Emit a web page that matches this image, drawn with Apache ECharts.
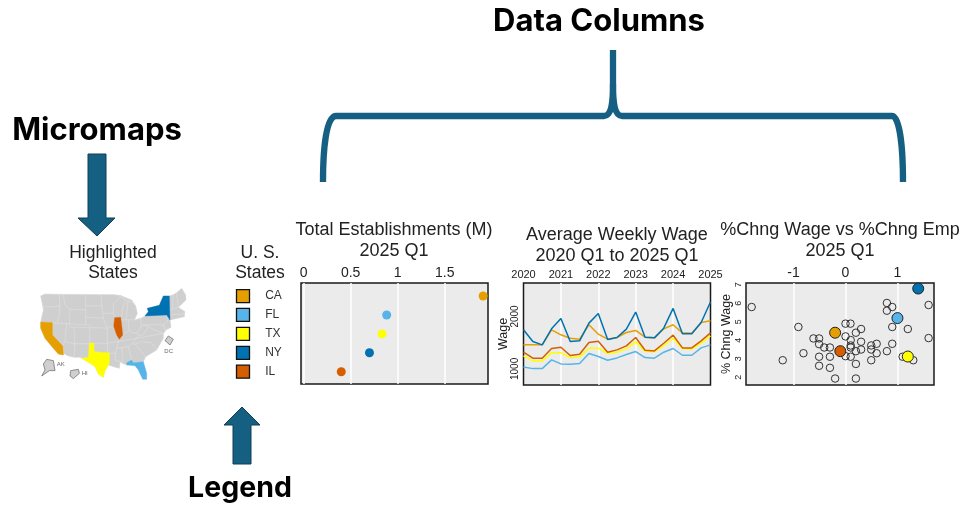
<!DOCTYPE html>
<html><head><meta charset="utf-8">
<style>html,body{margin:0;padding:0;background:#fff}#c{width:965px;height:510px}</style>
<script src="https://cdn.jsdelivr.net/npm/echarts@6/dist/echarts.min.js"></script>
</head><body><div id="c"></div>
<script>
// ---- highlighted states
const stateCodes = ['CA','FL','TX','NY','IL'];
const stateColors = ['#E69F00','#56B4E9','#FFFF00','#0072B2','#D55E00'];
const legendRows = [5,4,3,2,1];
// ---- column 1
const establishments = [1.908,0.883,0.834,0.70,0.40];
const estTicks = [0,0.5,1,1.5];
// ---- column 2
const quarters = [2020,2020.25,2020.5,2020.75,2021,2021.25,2021.5,2021.75,2022,2022.25,2022.5,2022.75,2023,2023.25,2023.5,2023.75,2024,2024.25,2024.5,2024.75,2025];
const wageCA = [1459,1459,1459,1745,1650,1586,1567,1841,1662,1567,1599,1694,1733,1605,1592,1764,1841,1688,1682,1885,1917];
const wageFL = [1038,1006,1006,1172,1096,1089,1102,1293,1236,1166,1210,1274,1331,1217,1204,1318,1389,1261,1261,1401,1459];
const wageTX = [1248,1153,1153,1306,1306,1217,1229,1395,1395,1299,1318,1382,1516,1338,1331,1446,1580,1389,1382,1490,1631];
const wageNY = [1745,1522,1459,1764,1962,1522,1535,1873,2057,1561,1599,1758,2083,1605,1592,1777,2153,1669,1669,1885,2274];
const wageIL = [1318,1204,1204,1389,1414,1255,1280,1503,1529,1318,1363,1440,1599,1357,1344,1490,1643,1401,1401,1535,1688];
const yearTicks = [2020,2021,2022,2023,2024,2025];
const wageTicks = [1000,2000];
// ---- column 3
const otherChngEmp = [-1.807,-0.907,-1.209,-0.81,-0.617,-0.508,-0.508,-0.41,-0.30,-0.508,-0.30,-0.508,-0.30,-0.2,0.2,0.2,0,0.096,0.2,0.30,0,0.1,0.1,0.1,0,0.1,0.2,0.3,0.3,0.495,0.495,0.6,0.6,0.495,0.797,0.9,0.9,0.797,0.9,0.797,1.2,1.1,1.305,1.6,1.6];
const otherChngWage = [5.80,4.72,2.92,3.30,4.10,4.10,3.79,3.61,3.61,3.11,3.11,2.62,2.51,1.93,1.93,2.72,4.9,4.9,4.41,4.61,4.21,4.01,3.72,3.61,3.14,3.11,3.41,3.5,3.92,3.72,3.5,3.81,3.3,2.92,3.41,3.81,4.72,6.02,5.8,5.6,4.61,3.11,2.92,5.91,4.12];
const hiChngEmp = [-0.2,1.0,1.2,1.4,-0.1];
const hiChngWage = [4.41,5.2,3.12,6.8,3.41];
const empTicks = [-1,0,1];
const chngWageTicks = [2,3,4,5,6,7];
// ---- schematic outlines for the micromap
const US=[122,228,135,222,345,224,362,226,395,240,407,258,412,280,403,300,423,295,435,288,445,275,442,265,478,256,490,228,508,228,520,224,530,218,545,205,557,225,558,240,535,262,555,275,553,290,510,300,513,322,498,330,495,335,490,340,490,355,470,390,437,410,430,425,400,428,380,428,380,435,367,430,360,425,358,445,340,440,325,435,328,430,315,452,310,472,295,462,285,440,270,430,245,415,240,412,222,412,205,408,190,400,190,405,175,402,160,385,135,355,122,325,122,306,130,270,128,258];
const GREATLAKE=[368,262,385,243,378,300,364,300,364,292];
const WA=[122,228,135,222,178,224,178,258,140,262,128,258];
const OR=[128,258,140,262,178,258,180,272,172,310,122,306,130,270];
const CAo=[122,306,157,308,157,345,188,378,190,405,175,402,160,385,135,355,122,325];
const NV=[157,308,172,310,200,310,195,365,188,378,157,345];
const ID=[178,224,190,224,195,255,210,268,210,312,200,310,172,310,180,272];
const MT=[190,224,257,224,257,270,210,268,195,255];
const ND=[257,224,303,224,306,258,257,258];
const SD=[257,258,306,258,310,295,257,292];
const WY=[210,268,257,270,257,315,210,312];
const NE=[257,292,310,295,322,325,270,323,270,315,257,315];
const UT=[200,310,210,312,210,322,222,322,225,372,195,365];
const CO=[222,322,270,323,270,370,225,372];
const AZ=[195,365,225,372,222,412,205,408,190,400,188,378];
const NM=[225,372,268,372,266,412,245,415,240,412,222,412];
const TXo=[268,370,282,370,282,395,310,398,328,398,328,430,315,452,310,472,295,462,285,440,270,430,245,415,266,412];
const KS=[270,323,322,325,322,370,270,370];
const OK=[270,370,322,370,324,400,310,398,282,395,282,370];
const MN=[303,224,345,224,362,230,340,250,340,280,308,280,306,258];
const IA=[308,280,340,280,345,293,341,318,330,322,322,325,310,295];
const MO=[322,325,330,322,341,318,350,345,358,358,355,365,322,370];
const AR=[322,370,355,365,350,385,348,400,324,400];
const LA=[324,400,348,400,345,420,360,425,358,445,340,440,325,435,328,430,328,398];
const WI=[340,250,362,230,375,240,368,262,364,292,345,293,340,280];
const UP=[375,240,362,230,395,240,407,258,400,250,385,243];
const MI=[385,243,400,250,407,258,412,280,403,300,378,300];
const ILo=[344,293,362,292,366,325,368,345,358,358,350,345,341,318];
const IN=[364,300,385,300,388,330,368,345,366,325];
const OH=[385,300,403,300,423,295,424,320,412,340,395,338,388,330];
const KY=[358,358,368,345,388,330,395,338,412,340,418,345,410,355,355,365];
const TN=[355,365,410,355,395,372,385,380,350,385];
const MS=[350,385,367,383,367,430,360,425,345,420,348,400];
const AL=[367,383,385,380,395,420,380,428,380,435,367,430];
const GA=[385,380,395,372,405,372,437,410,430,425,400,428,395,420];
const FLo=[380,428,395,420,400,428,430,425,440,460,440,478,428,478,415,450,405,437,380,435];
const SC=[405,372,425,365,455,368,470,390,437,410];
const NC=[395,372,410,355,490,340,490,355,470,390,455,368,425,365,405,372];
const VA=[410,355,418,345,428,345,445,320,465,330,490,340];
const WV=[412,340,424,320,430,315,445,320,428,345,418,345];
const PA=[423,295,435,288,500,285,503,305,490,315,430,315,424,320];
const MD=[430,315,490,315,495,335,490,340,465,330,445,320];
const NJ=[500,285,510,300,513,322,498,330,490,315,503,305];
const NYo=[442,265,478,256,490,228,508,228,510,300,500,285,435,288,445,275];
const VT=[508,228,520,224,518,268,510,270];
const NH=[520,224,530,218,535,262,518,268];
const ME=[530,218,545,205,557,225,558,240,535,262];
const MA=[510,270,518,268,535,262,555,275,553,282,510,285];
const CT=[510,285,553,282,553,290,510,300];
const AK=[140,418,160,422,165,452,148,452,125,468,135,450,130,432];
const HI=[212,452,235,448,238,460,220,476,210,468];
const DC=[505,348,520,358,510,375,495,362];
// drawn in this order: nation, plain states, insets, highlighted states last
const outlines={WA,OR,NV,ID,MT,ND,SD,WY,NE,UT,CO,AZ,NM,KS,OK,MN,IA,MO,AR,LA,WI,UP,MI,IN,OH,KY,TN,MS,AL,GA,SC,NC,VA,WV,PA,MD,NJ,VT,NH,ME,MA,CT,AK,HI,DC,CA:CAo,FL:FLo,TX:TXo,NY:NYo,IL:ILo};
const insetStates=['AK','HI','DC'];

function ring(f){const r=[];for(let i=0;i<f.length;i+=2)r.push([f[i],-f[i+1]]);r.push(r[0]);return r;}
const feature=(n,rings)=>({type:'Feature',properties:{name:n},geometry:{type:'Polygon',coordinates:rings}});
const usGeo={type:'FeatureCollection',features:[feature('US',[ring(US),ring(GREATLAKE)]),...Object.keys(outlines).map(n=>feature(n,[ring(outlines[n])]))]};
echarts.registerMap('micro',usGeo);

const FONT='"Liberation Sans",Arial,sans-serif', BOLD='Inter,"Open Sans",sans-serif';
const INK='#222', BLUE='#156082', DARK='#0f3f55';
const gridBase={show:true,backgroundColor:'#ebebeb',borderColor:'#1a1a1a',borderWidth:1.5};
const white=(extra)=>Object.assign({show:true,lineStyle:{color:'#fff',width:1.5}},extra||{});
const plain=v=>String(v);

function xAxis(i,min,max,ticks,size,split){return {type:'value',gridIndex:i,position:'top',min,max,
  axisLine:{show:false},axisTick:{show:false,customValues:ticks},
  splitLine:white(split),
  axisLabel:{customValues:ticks,formatter:plain,color:INK,fontSize:size,fontFamily:FONT,margin:3,hideOverlap:false,showMinLabel:true,showMaxLabel:true}};}
function yAxis(i,min,max,ticks,size,name){return {type:'value',gridIndex:i,min,max,
  axisLine:{show:false},axisTick:{show:false},splitLine:{show:false},
  name:name||'',nameLocation:'middle',nameGap:13,nameTextStyle:{color:INK,fontSize:12.5,fontFamily:FONT},
  axisLabel:ticks?{customValues:ticks,formatter:plain,rotate:90,color:INK,fontSize:size,fontFamily:FONT,margin:3}:{show:false}};}
const hideX=(i,min,max)=>({type:'value',gridIndex:i,min,max,show:false,splitLine:{show:false}});

const wageSeries=[wageCA,wageFL,wageTX,wageNY,wageIL];
const ROWMIN=0.35, ROWMAX=5.69;
const titleStyle=(fs,lh)=>({fontFamily:FONT,fontWeight:'normal',fontSize:fs,lineHeight:lh,color:INK});
const brace={stroke:BLUE,lineWidth:6.3,fill:'none'};
const text=(t,x,y,font,fill)=>({type:'text',x,y,style:{text:t,font,fill,align:'center',verticalAlign:'middle'}});

const option={
  animation:false,backgroundColor:'#fff',
  title:[
    {text:'Total Establishments (M)\n2025 Q1',left:389,top:214,textAlign:'center',textStyle:titleStyle(18,21.5)},
    {text:'Average Weekly Wage\n2020 Q1 to 2025 Q1',left:612,top:220,textAlign:'center',textStyle:titleStyle(18,21)},
    {text:'%Chng Wage vs %Chng Emp\n2025 Q1',left:835,top:215,textAlign:'center',textStyle:titleStyle(18,21)},
    {text:'Highlighted\nStates',left:108,top:238,textAlign:'center',textStyle:titleStyle(17.5,20)},
    {text:'U. S.\nStates',left:255,top:238,textAlign:'center',textStyle:titleStyle(17.5,20)}
  ],
  grid:[
    Object.assign({left:301,top:283,width:187,height:101},gridBase),
    Object.assign({left:523.5,top:283,width:187,height:102},gridBase),
    Object.assign({left:746,top:283,width:188,height:102},gridBase),
    {left:230,top:283,width:40,height:101,show:false}
  ],
  xAxis:[
    xAxis(0,-0.028,1.96,estTicks,14),
    xAxis(1,2020,2025,yearTicks,11,{showMinLine:false,showMaxLine:false}),
    xAxis(2,-1.916,1.704,empTicks,14),
    hideX(3,0,40)
  ],
  yAxis:[
    yAxis(0,ROWMIN,ROWMAX),
    yAxis(1,694,2637,wageTicks,10,'Wage'),
    yAxis(2,1.58,7.1,chngWageTicks,9,'% Chng Wage'),
    Object.assign(yAxis(3,ROWMIN,ROWMAX),{show:false})
  ],
  series:[
    {type:'map',map:'micro',aspectScale:1,roam:false,silent:true,left:40.7,top:288.3,width:145.3,height:91,
      label:{show:false},emphasis:{disabled:true},select:{disabled:true},showLegendSymbol:false,
      itemStyle:{areaColor:'#cfcfcf',borderColor:'#e4e4e4',borderWidth:0.4},
      data:[
        ...stateCodes.map((n,i)=>({name:n,value:1,itemStyle:{areaColor:stateColors[i],borderColor:stateColors[i]}})),
        ...insetStates.map(n=>({name:n,value:0,itemStyle:{areaColor:'#cfcfcf',borderColor:'#666',borderWidth:0.7}}))
      ]},
    {type:'scatter',xAxisIndex:0,yAxisIndex:0,symbolSize:9,silent:true,
      data:establishments.map((v,i)=>({value:[v,legendRows[i]],itemStyle:{color:stateColors[i],opacity:1}}))},
    ...wageSeries.map((w,k)=>({type:'line',xAxisIndex:1,yAxisIndex:1,symbol:'none',silent:true,
      lineStyle:{color:stateColors[k],width:1.5},
      data:w.map((v,i)=>[quarters[i],v])})),
    {type:'scatter',xAxisIndex:2,yAxisIndex:2,symbolSize:7.5,silent:true,
      itemStyle:{color:'rgba(255,255,255,0.0)',borderColor:'#333',borderWidth:1,opacity:1},
      data:otherChngEmp.map((v,i)=>[v,otherChngWage[i]])},
    {type:'scatter',xAxisIndex:2,yAxisIndex:2,symbolSize:11,silent:true,z:3,
      data:hiChngEmp.map((v,i)=>({value:[v,hiChngWage[i]],itemStyle:{color:stateColors[i],borderColor:'#222',borderWidth:1,opacity:1}}))},
    {type:'scatter',xAxisIndex:3,yAxisIndex:3,symbol:'rect',symbolSize:13,silent:true,
      data:stateCodes.map((n,i)=>({name:n,value:[13,legendRows[i]],itemStyle:{color:stateColors[i],borderColor:'#111',borderWidth:1.3,opacity:1}})),
      label:{show:true,position:'right',distance:15,formatter:p=>p.name,color:'#333',fontFamily:FONT,fontSize:12}}
  ],
  graphic:[
    text('Data Columns',599,22,'700 31px '+BOLD,'#000'),
    text('Micromaps',97,131,'700 31px '+BOLD,'#000'),
    text('Legend',240,488,'700 28.5px '+BOLD,'#000'),
    {type:'bezierCurve',shape:{x1:323,y1:182,cpx1:323,cpy1:150,cpx2:326,cpy2:116,x2:336,y2:116},style:brace},
    {type:'line',shape:{x1:336,y1:116,x2:604,y2:116},style:brace},
    {type:'bezierCurve',shape:{x1:604,y1:116,cpx1:611,cpy1:116,cpx2:613,cpy2:104,x2:613,y2:84},style:brace},
    {type:'line',shape:{x1:613,y1:84,x2:613,y2:50},style:brace},
    {type:'bezierCurve',shape:{x1:613,y1:84,cpx1:613,cpy1:104,cpx2:615,cpy2:116,x2:622,y2:116},style:brace},
    {type:'line',shape:{x1:622,y1:116,x2:892,y2:116},style:brace},
    {type:'bezierCurve',shape:{x1:892,y1:116,cpx1:900,cpy1:116,cpx2:903,cpy2:150,x2:903,y2:182},style:brace},
    {type:'polygon',shape:{points:[[88,154],[106,154],[106,218],[115,218],[97,236],[78,218],[88,218]]},style:{fill:BLUE,stroke:DARK,lineWidth:1}},
    {type:'polygon',shape:{points:[[242,407],[260,425],[251,425],[251,464],[233,464],[233,425],[224,425]]},style:{fill:BLUE,stroke:DARK,lineWidth:1}},
    text('AK',60.7,364,'6px '+FONT,'#666'),
    text('HI',84.7,373,'6px '+FONT,'#666'),
    text('DC',168.7,351.5,'6px '+FONT,'#666')
  ]
};
echarts.init(document.getElementById('c'),null,{renderer:'canvas'}).setOption(option);
</script></body></html>
